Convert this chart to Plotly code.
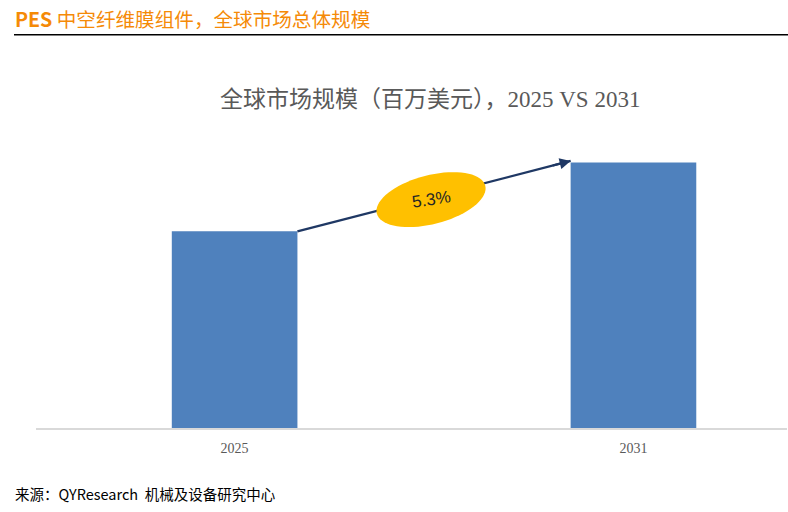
import math
import plotly.graph_objects as go

# ---- data ----
years = ["2025", "2031"]
market_size = [100, 135]          # relative market size (arbitrary units)
cagr_label = "5.3%"

header_prefix = "PES"
header_text = " 中空纤维膜组件，全球市场总体规模"
chart_title = "全球市场规模（百万美元），2025 VS 2031"
source_text = "来源：QYResearch  机械及设备研究中心"

# ---- layout geometry (pixels) ----
W, H = 788, 512
L, R = 36, 787            # x axis extent in px
BASE = 428                # y of baseline in px
TOP = 132.5               # top of plot area in px
XR = [-0.498, 1.385]
YR = [0, 150]
BAR_W = 0.315

def px_x(xd):
    return L + (xd - XR[0]) / (XR[1] - XR[0]) * (R - L)

def px_y(yd):
    return BASE - (yd - YR[0]) / (YR[1] - YR[0]) * (BASE - TOP)

def paper_x(px):
    return (px - L) / (R - L)

def paper_y(py):
    return (BASE - py) / (BASE - TOP)

def data_x(px):
    return XR[0] + (px - L) / (R - L) * (XR[1] - XR[0])

def data_y(py):
    return YR[0] + (BASE - py) / (BASE - TOP) * (YR[1] - YR[0])

xs = list(range(len(years)))

fig = go.Figure()
fig.add_trace(go.Bar(
    x=xs, y=market_size, width=BAR_W,
    marker=dict(color="#4F81BD", line=dict(width=0)),
    hoverinfo="skip",
))

# arrow from top-right of first bar to top-left of last bar
x0, y0 = xs[0] + BAR_W / 2, market_size[0]
x1, y1 = xs[-1] - BAR_W / 2, market_size[-1] + 0.8

sx, sy = px_x(x0), px_y(y0)
ex, ey = px_x(x1), px_y(y1)
ang = math.atan2(sy - ey, ex - sx)

# arrow shaft as a shape (so the ellipse can cover it)
fig.add_shape(type="line", xref="x", yref="y", x0=x0, y0=y0, x1=x1, y1=y1,
              line=dict(color="#1F3864", width=2.2), layer="above")
# arrowhead only
hx, hy = ex - 20 * math.cos(ang), ey + 20 * math.sin(ang)
fig.add_annotation(
    x=x1, y=y1, ax=data_x(hx), ay=data_y(hy), xref="x", yref="y", axref="x", ayref="y",
    text="", showarrow=True, arrowhead=2, arrowsize=1, arrowwidth=2.2,
    arrowcolor="#1F3864", standoff=0, startstandoff=0,
)

# rotated ellipse at arrow midpoint (computed in pixel space)
cx, cy = (sx + ex) / 2 - 3, (sy + ey) / 2 + 3.5
a, b = 56, 24.5
pts = []
for i in range(73):
    t = 2 * math.pi * i / 72
    ux, uy = a * math.cos(t), b * math.sin(t)
    px = cx + ux * math.cos(ang) + uy * math.sin(ang)
    py = cy - ux * math.sin(ang) + uy * math.cos(ang)
    pts.append((paper_x(px), paper_y(py)))
path = "M " + " L ".join(f"{p[0]:.5f},{p[1]:.5f}" for p in pts) + " Z"
fig.add_shape(type="path", path=path, xref="paper", yref="paper",
              fillcolor="#FFC000", line=dict(width=0), layer="above")
fig.add_annotation(
    x=paper_x(cx), y=paper_y(cy), xref="paper", yref="paper",
    xanchor="center", yanchor="middle",
    text=cagr_label, showarrow=False, textangle=-math.degrees(ang) * 0.6,
    font=dict(family="Liberation Sans, Arial", size=17, color="#262626"),
)

# chart title
fig.add_annotation(
    x=paper_x(430), y=paper_y(99), xref="paper", yref="paper",
    text=chart_title, showarrow=False, xanchor="center", yanchor="middle",
    font=dict(family="Liberation Serif, Times New Roman, Noto Sans CJK SC", size=23, color="#595959"),
)

# header
fig.add_annotation(
    x=paper_x(13), y=paper_y(18), xref="paper", yref="paper",
    text="<b>" + header_prefix + "</b>" + header_text, showarrow=False,
    xanchor="left", yanchor="middle",
    font=dict(family="Noto Sans CJK SC, Noto Sans", size=19.6, color="#F58A07"),
)
fig.add_shape(type="line", xref="paper", yref="paper",
              x0=paper_x(14), x1=paper_x(788), y0=paper_y(34), y1=paper_y(34),
              line=dict(color="#000000", width=1.5))

# source
fig.add_annotation(
    x=paper_x(13), y=paper_y(494), xref="paper", yref="paper",
    text=source_text, showarrow=False, xanchor="left", yanchor="middle",
    font=dict(family="Noto Sans CJK SC, Noto Sans", size=14.5, color="#000000"),
)

fig.update_layout(
    width=W, height=H,
    margin=dict(l=L, r=W - R, t=TOP, b=H - BASE, pad=0),
    paper_bgcolor="white", plot_bgcolor="white",
    showlegend=False,
    xaxis=dict(range=XR, tickmode="array", tickvals=xs, ticktext=years,
               showgrid=False, zeroline=False, showline=True,
               linecolor="#D9D9D9", linewidth=1.5, ticks="",
               ticklabelstandoff=6,
               tickfont=dict(family="Liberation Serif, Times New Roman", size=14, color="#595959")),
    yaxis=dict(range=YR, visible=False, showgrid=False, zeroline=False),
)

fig.write_html("out.html")
